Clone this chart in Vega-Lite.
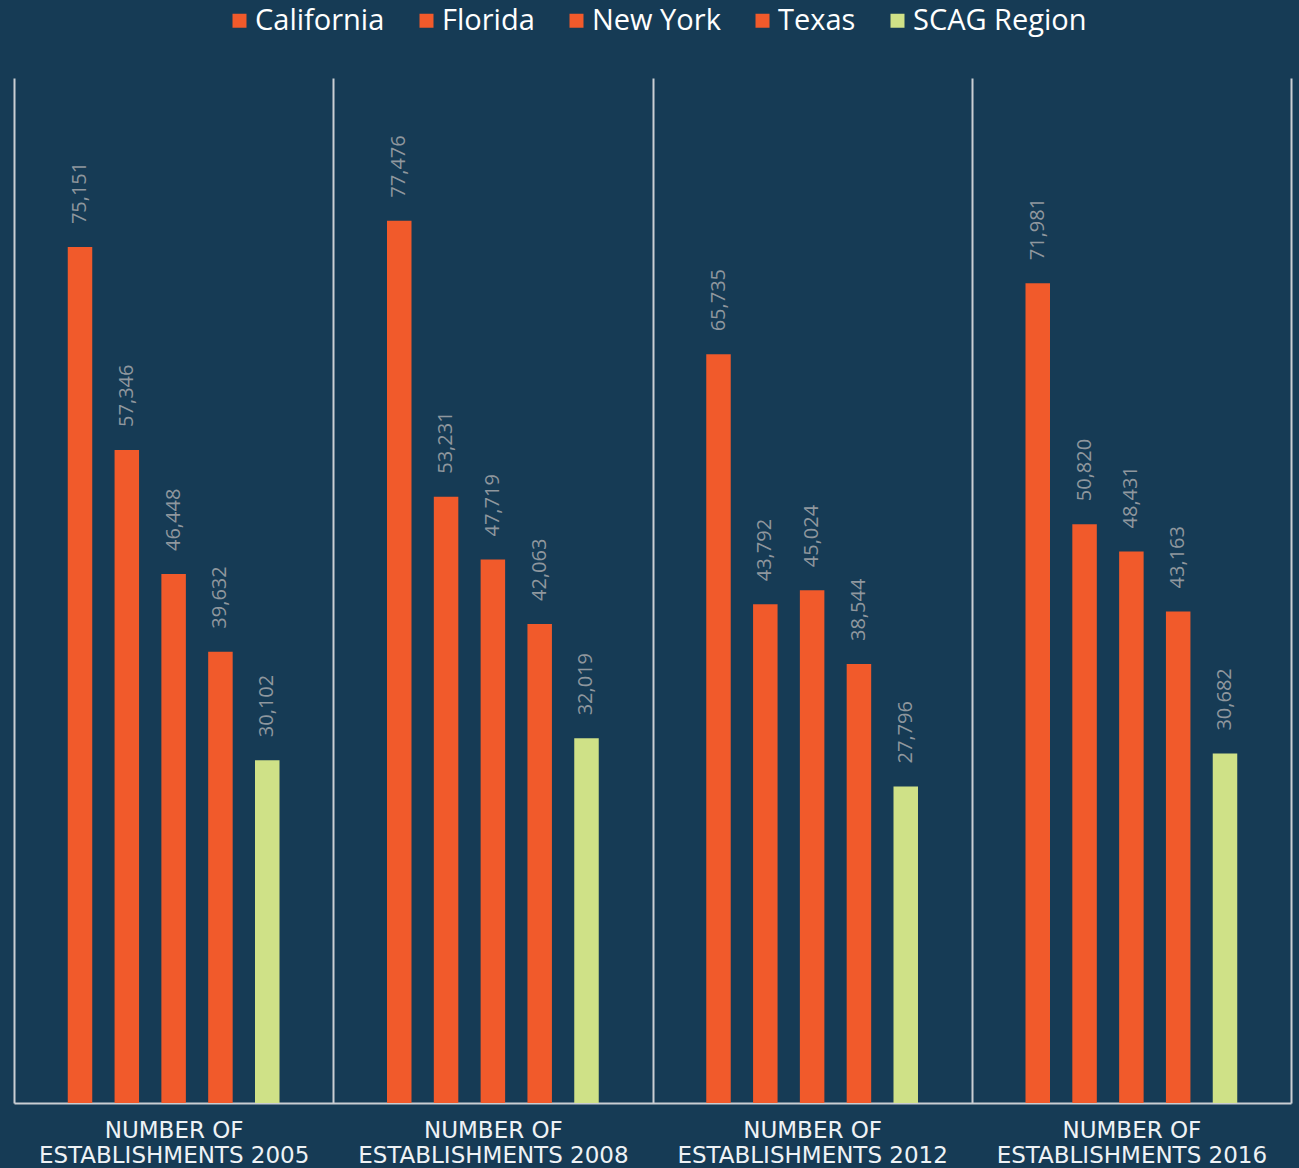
{
  "$schema": "https://vega.github.io/schema/vega-lite/v6.json",
  "width": 1277,
  "height": 1025,
  "autosize": {"type": "none"},
  "padding": {"left": 14, "top": 78, "right": 8, "bottom": 65},
  "background": "#163b55",
  "config": {
    "view": {"stroke": null},
    "font": "Open Sans"
  },
  "data": {
    "values": [
      {"period": "2005", "area": "California", "value": 75151},
      {"period": "2005", "area": "Florida", "value": 57346},
      {"period": "2005", "area": "New York", "value": 46448},
      {"period": "2005", "area": "Texas", "value": 39632},
      {"period": "2005", "area": "SCAG Region", "value": 30102},
      {"period": "2008", "area": "California", "value": 77476},
      {"period": "2008", "area": "Florida", "value": 53231},
      {"period": "2008", "area": "New York", "value": 47719},
      {"period": "2008", "area": "Texas", "value": 42063},
      {"period": "2008", "area": "SCAG Region", "value": 32019},
      {"period": "2012", "area": "California", "value": 65735},
      {"period": "2012", "area": "Florida", "value": 43792},
      {"period": "2012", "area": "New York", "value": 45024},
      {"period": "2012", "area": "Texas", "value": 38544},
      {"period": "2012", "area": "SCAG Region", "value": 27796},
      {"period": "2016", "area": "California", "value": 71981},
      {"period": "2016", "area": "Florida", "value": 50820},
      {"period": "2016", "area": "New York", "value": 48431},
      {"period": "2016", "area": "Texas", "value": 43163},
      {"period": "2016", "area": "SCAG Region", "value": 30682}
    ]
  },
  "encoding": {
    "x": {
      "field": "period",
      "type": "nominal",
      "sort": null,
      "scale": {"paddingInner": 0, "paddingOuter": 0},
      "axis": {
        "title": null,
        "tickBand": "extent",
        "grid": true,
        "gridColor": "#c9ced3",
        "gridWidth": 2,
        "gridOpacity": 1,
        "ticks": false,
        "domain": true,
        "domainColor": "#c9ced3",
        "domainWidth": 2,
        "labelAngle": 0,
        "labelExpr": "(datum.index > 1 || datum.extra) ? '' : ['NUMBER OF', 'ESTABLISHMENTS ' + datum.label]",
        "labelFont": "DejaVu Sans",
        "labelFontSize": 23,
        "labelColor": "#eef2f5",
        "labelBaseline": "top",
        "labelPadding": 16,
        "labelLineHeight": 25,
        "labelLimit": 500
      }
    },
    "xOffset": {
      "field": "area",
      "type": "nominal",
      "sort": ["California", "Florida", "New York", "Texas", "SCAG Region"],
      "scale": {"paddingInner": 0.18, "paddingOuter": 1}
    },
    "y": {
      "field": "value",
      "type": "quantitative",
      "scale": {"domain": [0, 90000], "nice": false},
      "axis": null
    }
  },
  "layer": [
    {
      "mark": {"type": "bar", "width": 24.5},
      "encoding": {
        "color": {
          "field": "area",
          "type": "nominal",
          "sort": ["California", "Florida", "New York", "Texas", "SCAG Region"],
          "scale": {
            "domain": ["California", "Florida", "New York", "Texas", "SCAG Region"],
            "range": ["#f15a2b", "#f15a2b", "#f15a2b", "#f15a2b", "#cfe187"]
          },
          "legend": {
            "title": null,
            "orient": "none",
            "direction": "horizontal",
            "legendX": 211,
            "legendY": -72,
            "symbolType": "square",
            "symbolSize": 196,
            "symbolStrokeWidth": 0,
            "symbolOpacity": 1,
            "labelFontSize": 29,
            "labelColor": "#ffffff",
            "labelOffset": 1,
            "columnPadding": 27,
            "labelLimit": 300
          }
        }
      }
    },
    {
      "mark": {
        "type": "text",
        "angle": 270,
        "align": "left",
        "baseline": "middle",
        "dx": 23,
        "fontSize": 20,
        "color": "#8f979e"
      },
      "encoding": {
        "text": {"field": "value", "type": "quantitative", "format": ","}
      }
    }
  ]
}
